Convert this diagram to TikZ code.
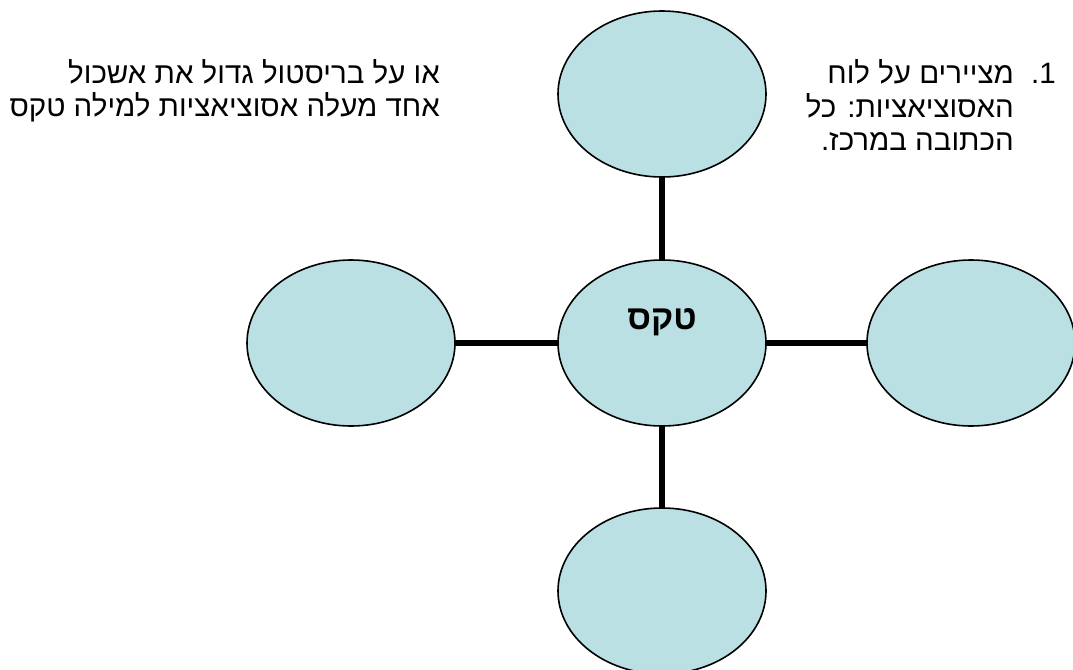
\documentclass[tikz,border=0pt]{standalone}
\usepackage{fontspec}
\TeXXeTstate=1
\newfontfamily\heb[Script=Hebrew]{Liberation Sans}
\definecolor{bubble}{RGB}{186,224,227}
\usetikzlibrary{shapes.geometric}
\begin{document}
\begin{tikzpicture}[x=1pt,y=-1pt,
  bub/.style={ellipse,draw=black,line width=1.6pt,fill=bubble,minimum width=208pt,minimum height=166pt,inner sep=0pt},
  link/.style={line width=5.5pt,draw=black},
  txt/.style={font=\heb\fontsize{29.5}{33}\selectfont,inner sep=0pt,anchor=base east}]
\useasboundingbox (0,0) rectangle (1073,669);
\fill[white] (0,0) rectangle (1073,669);
\coordinate (cc) at (662,343);
\coordinate (ct) at (662,94);
\coordinate (cb) at (662,591);
\coordinate (cl) at (351,343);
\coordinate (cr) at (971,343);
\draw[link] (cc) -- (ct);
\draw[link] (cc) -- (cb);
\draw[link] (cc) -- (cl);
\draw[link] (cc) -- (cr);
\node[bub] (t) at (ct) {};
\node[bub] (b) at (cb) {};
\node[bub] (l) at (cl) {};
\node[bub] (r) at (cr) {};
\node[bub] (c) at (cc) {};
\node[font=\heb\bfseries\fontsize{34}{36}\selectfont,inner sep=0pt,anchor=base] (ctext) at (662,329) {\beginR טקס\endR};
\node[txt] (l1) at (440,84) {\beginR או על בריסטול גדול את אשכול\endR};
\node[txt] (l2) at (440,116) {\beginR אחד מעלה אסוציאציות למילה טקס\endR};
\node[txt] (num) at (1056,84) {1.};
\node[txt] (r1) at (1014,84) {\beginR מציירים על לוח\endR};
\node[txt] (r2) at (1014,117) {\beginR האסוציאציות: כל\endR};
\node[txt] (r3) at (1014,150) {\beginR הכתובה במרכז.\endR};
\end{tikzpicture}
\end{document}
